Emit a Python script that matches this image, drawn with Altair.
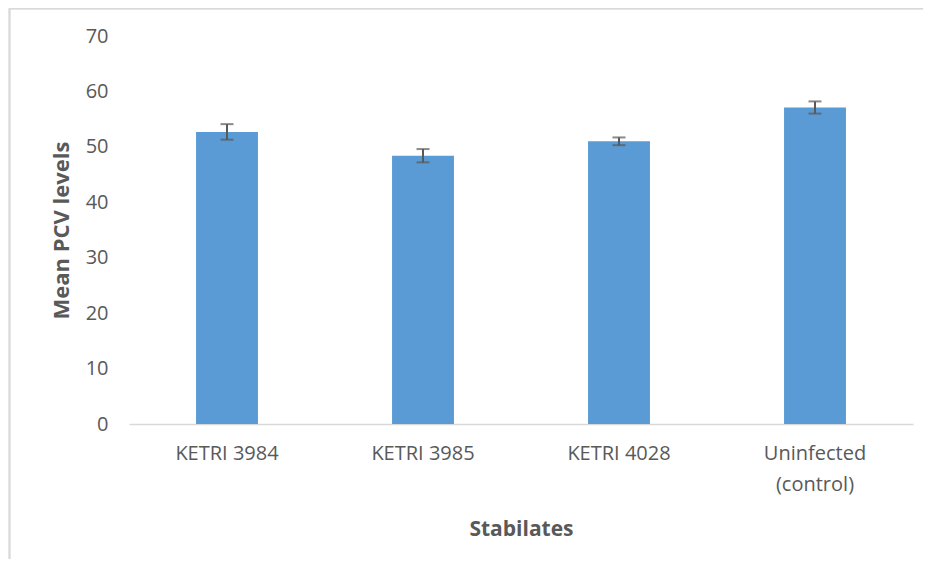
import altair as alt
import pandas as pd

categories = ["KETRI 3984", "KETRI 3985", "KETRI 4028", "Uninfected\n(control)"]
means = [52.7, 48.4, 51.0, 57.1]
errors = [1.4, 1.2, 0.7, 1.1]

df = pd.DataFrame({
    "cat": categories,
    "mean": means,
    "lo": [m - e for m, e in zip(means, errors)],
    "hi": [m + e for m, e in zip(means, errors)],
})

FONT = "Open Sans"
GRAY = "#595959"

x = alt.X(
    "cat:N",
    sort=categories,
    scale=alt.Scale(paddingInner=0.684, paddingOuter=0.342),
    axis=alt.Axis(
        title="Stabilates",
        labelAngle=0,
        labelExpr="split(datum.label, '\\n')",
        labelFont=FONT,
        labelFontSize=20,
        labelColor=GRAY,
        labelPadding=19,
        labelLineHeight=31,
        ticks=False,
        domainColor="#d9d9d9",
        domainWidth=1.5,
        titleFont=FONT,
        titleFontSize=21,
        titleFontWeight="bold",
        titleColor=GRAY,
        titlePadding=24,
    ),
)

y_scale = alt.Scale(domain=[0, 70])
y_axis = alt.Axis(
    title="Mean PCV levels",
    values=[0, 10, 20, 30, 40, 50, 60, 70],
    grid=False,
    domain=False,
    ticks=False,
    labelFont=FONT,
    labelFontSize=20,
    labelColor=GRAY,
    labelPadding=21,
    titleFont=FONT,
    titleFontSize=22,
    titleFontWeight="bold",
    titleColor=GRAY,
    titlePadding=12,
)

bars = alt.Chart(df).mark_bar(color="#5b9bd5").encode(
    x=x,
    y=alt.Y("mean:Q", scale=y_scale, axis=y_axis),
)

rule = alt.Chart(df).mark_rule(color=GRAY, strokeWidth=2).encode(
    x=alt.X("cat:N", sort=categories),
    y="lo:Q",
    y2="hi:Q",
)
cap_lo = alt.Chart(df).mark_tick(color=GRAY, size=13, thickness=2).encode(
    x=alt.X("cat:N", sort=categories),
    y="lo:Q",
)
cap_hi = alt.Chart(df).mark_tick(color=GRAY, size=13, thickness=2).encode(
    x=alt.X("cat:N", sort=categories),
    y="hi:Q",
)

border_left = alt.Chart(df).mark_rule(color="#d9d9d9", strokeWidth=1.5, clip=False).encode(
    x=alt.value(-119.5), y=alt.value(-27.5), y2=alt.value(560)
)
border_top = alt.Chart(df).mark_rule(color="#d9d9d9", strokeWidth=1.5, clip=False).encode(
    x=alt.value(-119.5), x2=alt.value(830), y=alt.value(-27.5)
)

chart = alt.layer(bars, rule, cap_lo, cap_hi, border_left, border_top).properties(
    width=784,
    height=388,
    padding={"left": 121, "top": 28, "right": 10, "bottom": 135},
    autosize=alt.AutoSizeParams(type="none"),
).configure_view(stroke=None)

chart.save("out.html", embed_options={"renderer": "svg", "actions": False})
